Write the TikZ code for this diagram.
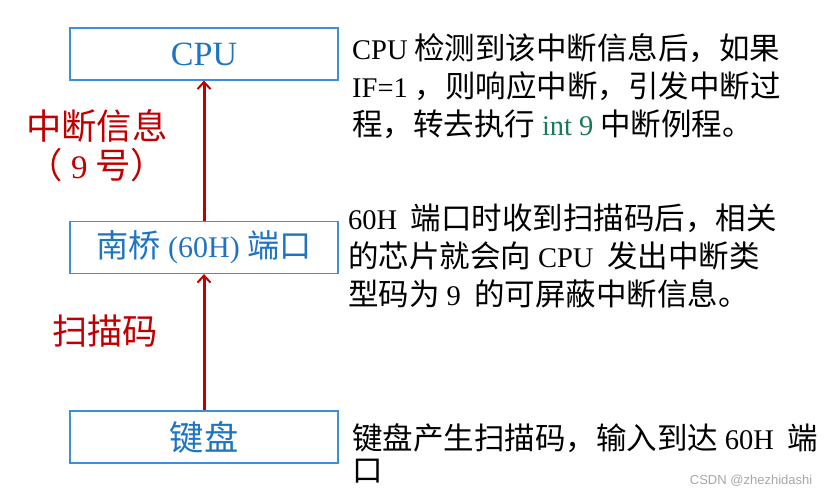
\documentclass[tikz,border=0pt]{standalone}
\usepackage{fontspec}
\setmainfont[Scale=1.07]{Noto Sans CJK SC}
\newfontfamily\latin{Liberation Serif}
\newfontfamily\wmfont{Liberation Sans}
\usetikzlibrary{arrows.meta}
\definecolor{boxcol}{HTML}{3D8FD9}
\definecolor{boxtext}{HTML}{1E74C2}
\definecolor{sigcol}{HTML}{C00000}
\definecolor{intcol}{HTML}{177A5A}
\newcommand{\en}[1]{{\latin #1}}

\begin{document}
\begin{tikzpicture}[x=1pt,y=-1pt,
  unit/.style={draw=boxcol, line width=1.2pt, minimum width=268pt, minimum height=52pt, inner sep=0pt, text=boxtext},
  sig/.style={-{Straight Barb[length=7pt,width=13pt,line width=2pt]}, sigcol, line width=3pt},
  siglabel/.style={sigcol, align=center, font=\fontsize{33}{39}\selectfont},
  note/.style={anchor=west, align=left, inner sep=0pt, font=\fontsize{28.5}{38}\selectfont}]
\useasboundingbox (0,0) rectangle (830,498);

\node[unit, font=\fontsize{34}{34}\selectfont\latin] (cpu) at (204,54) {CPU};
\node[unit, font=\fontsize{30}{30}\selectfont] (bridge) at (204,247.5) {南桥 \en{(60H)} 端口};
\node[unit, font=\fontsize{32}{32}\selectfont] (kbd) at (204,437) {键盘};

\draw[sig] (bridge) -- (cpu);
\draw[sig] (kbd) -- (bridge);

\node[siglabel] (intmsg) at (97,146) {中断信息\\（ \en{9} 号）};
\node[siglabel] (scancode) at (105,331) {扫描码};

\node[note] (cpunote) at (352,86) {\en{CPU} 检测到该中断信息后，如果\\\en{IF=1} ，则响应中断，引发中断过\\程，转去执行 \textcolor{intcol}{\en{int 9}} 中断例程。};
\node[note] (bridgenote) at (348,256) {\en{60H}\ \ 端口时收到扫描码后，相关\\的芯片就会向 \en{CPU}\ \ 发出中断类\\型码为 \en{9}\ \ 的可屏蔽中断信息。};
\node[note, font=\fontsize{28.5}{32}\selectfont] (kbdnote) at (352,453) {键盘产生扫描码，输入到达 \en{60H}\ \ 端\\口};

\node[anchor=east, text=gray!70, font=\fontsize{13}{13}\selectfont\wmfont] (mark) at (816,481) {CSDN @zhezhidashi};
\end{tikzpicture}
\end{document}
